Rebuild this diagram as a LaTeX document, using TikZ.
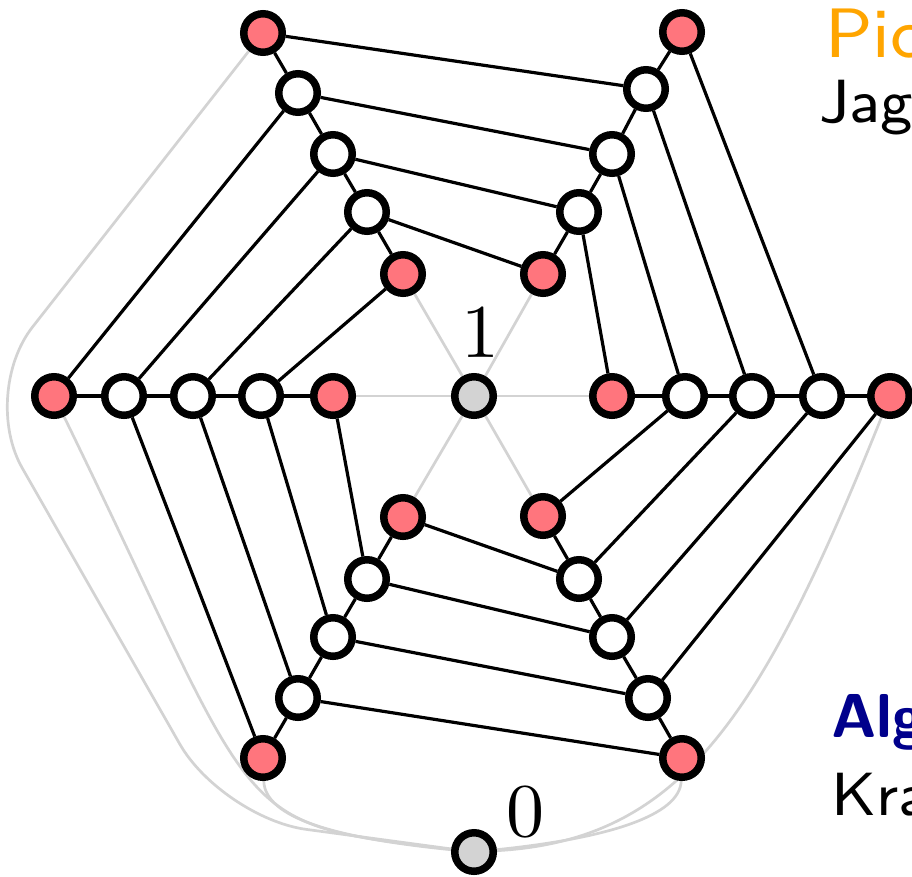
\documentclass[tikz,border=0pt]{standalone}
\usepackage{fontspec}
\usetikzlibrary{backgrounds}
\newfontfamily\sanseight{lmsans8-regular.otf}
\newfontfamily\sansbold{lmsans10-bold.otf}
\newfontfamily\romanten{lmroman10-regular.otf}
\definecolor{vred}{RGB}{255,117,125}
\definecolor{vgray}{RGB}{211,211,211}
\definecolor{ltline}{RGB}{211,211,211}
\definecolor{titleorange}{RGB}{255,165,0}
\definecolor{alertblue}{RGB}{0,0,140}
\begin{document}
\begin{tikzpicture}[x=1pt,y=-1pt,
  vtx/.style={circle,draw=black,line width=7.5pt,minimum size=38.5pt,inner sep=0pt},
  vhot/.style={vtx,fill=vred},
  vwhite/.style={vtx,fill=white},
  vhub/.style={vtx,fill=vgray},
  link/.style={draw=black,line width=3.2pt},
  faint/.style={draw=ltline,line width=2.7pt},
  lab/.style={font=\romanten\fontsize{76}{80}\selectfont,inner sep=0pt,anchor=base},
  side/.style={inner sep=0pt,anchor=base west,font=\sanseight\fontsize{61}{70}\selectfont}
]
\useasboundingbox (0,0) rectangle (912,876);
\clip (0,0) rectangle (912,876);

% hub vertices
\node[vhub] (C) at (474,396) {};
\node[vhub] (B) at (474,852) {};

% six arms, index 0 = inner end, 4 = outer end
\node[vhot]   (L0) at (333,396) {};
\node[vwhite] (L1) at (261,396) {};
\node[vwhite] (L2) at (193,396) {};
\node[vwhite] (L3) at (124,396) {};
\node[vhot]   (L4) at (54,396) {};

\node[vhot]   (R0) at (612,396) {};
\node[vwhite] (R1) at (685,396) {};
\node[vwhite] (R2) at (752,396) {};
\node[vwhite] (R3) at (822,396) {};
\node[vhot]   (R4) at (890,396) {};

\node[vhot]   (UL0) at (403,274) {};
\node[vwhite] (UL1) at (367,212) {};
\node[vwhite] (UL2) at (333,154) {};
\node[vwhite] (UL3) at (298,93) {};
\node[vhot]   (UL4) at (263,33) {};

\node[vhot]   (UR0) at (543,274) {};
\node[vwhite] (UR1) at (579,212) {};
\node[vwhite] (UR2) at (612,154) {};
\node[vwhite] (UR3) at (646,89) {};
\node[vhot]   (UR4) at (682,32) {};

\node[vhot]   (LL0) at (403,517) {};
\node[vwhite] (LL1) at (367,579) {};
\node[vwhite] (LL2) at (333,637) {};
\node[vwhite] (LL3) at (298,698) {};
\node[vhot]   (LL4) at (263,758) {};

\node[vhot]   (LR0) at (543,516) {};
\node[vwhite] (LR1) at (579,579) {};
\node[vwhite] (LR2) at (612,637) {};
\node[vwhite] (LR3) at (648,698) {};
\node[vhot]   (LR4) at (682,758) {};

% labels
\node[lab] (one) at (480,357) {1};
\node[lab] (zero) at (525,836) {0};

% side text
\node[side,text=titleorange,font=\sanseight\fontsize{70}{80}\selectfont] (t1) at (825,57) {Pic};
\node[side] (t2) at (819,122) {Jag};
\node[side,text=alertblue,font=\sansbold\fontsize{62}{70}\selectfont] (t3) at (831,737) {Alg};
\node[side] (t4) at (831,815) {Kra};

\begin{scope}[on background layer]
  % spokes from the centre
  \foreach \a in {L,UL,UR,R,LR,LL}
    \draw[faint] (C) -- (\a0);
  % curves to the bottom hub
  \draw[faint,rounded corners=85pt] (UL4) -- (-20,394) -- (222,818) -- (B);
  \draw[faint] (L4) .. controls (264,827) and (226,823) .. (B);
  \draw[faint] (LL4) .. controls (265,818) and (335,838) .. (B);
  \draw[faint] (LR4) .. controls (680,815) and (610,838) .. (B);
  \draw[faint] (R4) .. controls (760,720) and (680,840) .. (B);
  % arm chains
  \foreach \a in {L,UL,UR,R,LR,LL}
    \draw[link] (\a0) -- (\a1) -- (\a2) -- (\a3) -- (\a4);
  % twisted rungs between neighbouring arms
  \foreach \a/\b in {L/UL,UL/UR,UR/R,R/LR,LR/LL,LL/L}
    \foreach \k/\j in {1/0,2/1,3/2,4/3}
      \draw[link] (\a\k) -- (\b\j);
\end{scope}
\end{tikzpicture}
\end{document}
